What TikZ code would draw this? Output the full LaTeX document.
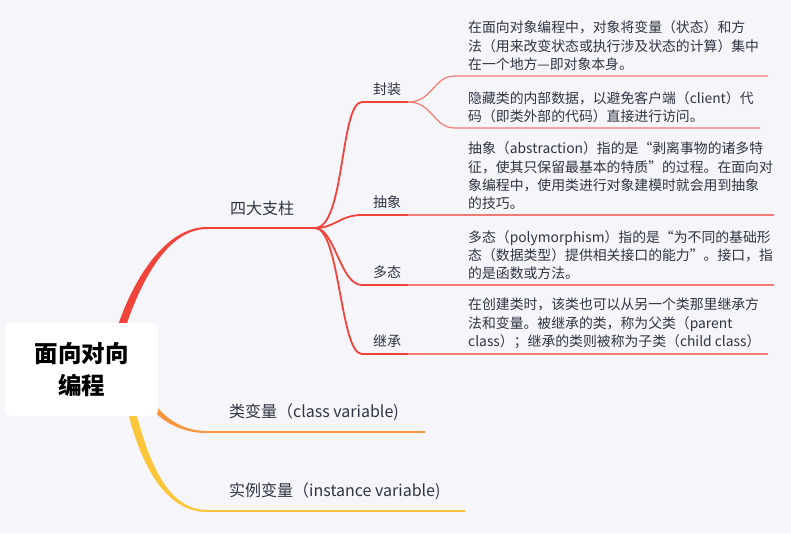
\documentclass[tikz,border=0pt]{standalone}
\usepackage{fontspec}
\setmainfont{Noto Sans CJK SC}
\usetikzlibrary{positioning}

\definecolor{bgcol}{HTML}{F5F5FA}
\definecolor{txtcol}{HTML}{2F3542}
\definecolor{redcol}{HTML}{F0443A}
\definecolor{twigcol}{HTML}{F47A74}
\definecolor{orgcol}{HTML}{F7963C}
\definecolor{yelcol}{HTML}{FCC63A}

\tikzset{
  rootbox/.style={fill=white, rounded corners=6pt, minimum width=153pt, minimum height=93pt,
    inner sep=0pt, align=center, font=\fontsize{23.5}{32}\selectfont\bfseries},
  mainlbl/.style={inner sep=0pt, text=txtcol, font=\fontsize{16}{20}\selectfont},
  sublbl/.style={inner sep=0pt, text=txtcol, font=\fontsize{14}{18}\selectfont},
  leaftxt/.style={inner sep=0pt, align=left, text=txtcol, font=\fontsize{13.85}{18.3}\selectfont},
  branch/.style={draw=redcol, line width=1.8pt},
  twig/.style={draw=twigcol, line width=1.2pt},
}

\begin{document}
\begin{tikzpicture}[x=1pt, y=-1pt]
    \fill[bgcol] (0,0) rectangle (791,533);
    \useasboundingbox (0,0) rectangle (791,533);

    % points where the branches meet
    \coordinate (redA) at (119,335);
    \coordinate (pillarsL) at (207,228);
    \coordinate (pillarsR) at (315,228);
    \coordinate (orgA) at (145,395);
    \coordinate (classL) at (207,432);
    \coordinate (classR) at (425,432);
    \coordinate (yelA) at (129,400);
    \coordinate (instL) at (207,511);
    \coordinate (instR) at (465,511);

    \coordinate (encapL) at (362,102);
    \coordinate (encapR) at (408,102);
    \coordinate (encapUp) at (455,76);
    \coordinate (encapUpEnd) at (768,76);
    \coordinate (encapLow) at (455,128);
    \coordinate (encapLowEnd) at (760,128);
    \coordinate (abstrL) at (362,215);
    \coordinate (abstrR) at (408,215);
    \coordinate (abstrEnd) at (774,215);
    \coordinate (polyL) at (362,285);
    \coordinate (polyR) at (408,285);
    \coordinate (polyEnd) at (774,285);
    \coordinate (inheritL) at (362,354);
    \coordinate (inheritR) at (408,354);
    \coordinate (inheritEnd) at (768,354);

    % main branches, thick at the root
    \fill[redcol] ([xshift=-4pt]redA) .. controls +(12,-42) and +(-47,0) .. ([yshift=1pt]pillarsL)
        -- ([yshift=-1pt]pillarsL) .. controls +(-45,0) and +(12,-38) .. ([xshift=4pt]redA) -- cycle;
    \fill[orgcol] ([shift={(-2pt,-2pt)}]orgA) .. controls +(15,25) and +(-25,0) .. ([yshift=-1pt]classL)
        -- ([yshift=1pt]classL) .. controls +(-25,0) and +(15,25) .. ([shift={(2pt,2pt)}]orgA) -- cycle;
    \fill[yelcol] ([xshift=-4pt]yelA) .. controls +(14,64) and +(-42,0) .. ([yshift=-1pt]instL)
        -- ([yshift=1pt]instL) .. controls +(-40,0) and +(14,60) .. ([xshift=4pt]yelA) -- cycle;
    \draw[redcol, line width=2.2pt] (pillarsL) -- (pillarsR);
    \draw[orgcol, line width=2.2pt] (classL) -- (classR);
    \draw[yelcol, line width=2.2pt] (instL) -- (instR);

    \node (root) [rootbox] at (81.5,369.5) {面向对向\\编程};

    % the four pillars
    \draw[branch] (pillarsR) .. controls +(30,0) and +(-22,0) .. (encapL) -- (encapR);
    \draw[branch] (pillarsR) .. controls +(20,0) and +(-22,0) .. (abstrL) -- (abstrR);
    \draw[branch] (pillarsR) .. controls +(20,0) and +(-22,0) .. (polyL) -- (polyR);
    \draw[branch] (pillarsR) .. controls +(25,0) and +(-22,0) .. (inheritL) -- (inheritR);

    \draw[twig] (encapR) .. controls +(25,0) and +(-22,0) .. (encapUp) -- (encapUpEnd);
    \draw[twig] (encapR) .. controls +(25,0) and +(-22,0) .. (encapLow) -- (encapLowEnd);
    \draw[twig] (abstrR) -- (abstrEnd);
    \draw[twig] (polyR) -- (polyEnd);
    \draw[twig] (inheritR) -- (inheritEnd);

    \node (pillars) [mainlbl, above right=12pt and 23pt of pillarsL] {四大支柱};
    \node (classvar) [mainlbl, above right=11pt and 22pt of classL] {类变量（class variable)};
    \node (instvar) [mainlbl, above right=11pt and 22pt of instL] {实例变量（instance variable)};

    \node (encap) [sublbl, above right=6pt and 11pt of encapL] {封装};
    \node (abstr) [sublbl, above right=6pt and 11pt of abstrL] {抽象};
    \node (poly) [sublbl, above right=6pt and 11pt of polyL] {多态};
    \node (inherit) [sublbl, above right=6pt and 11pt of inheritL] {继承};

    \node (encapA) [leaftxt, above right=5pt and 13pt of encapUp]
        {在面向对象编程中，对象将变量（状态）和方\\法（用来改变状态或执行涉及状态的计算）集中\\在一个地方—即对象本身。};
    \node (encapB) [leaftxt, above right=5pt and 13pt of encapLow]
        {隐藏类的内部数据，以避免客户端（client）代\\码（即类外部的代码）直接进行访问。};
    \node (abstrT) [leaftxt, above right=5pt and 60pt of abstrR]
        {抽象（abstraction）指的是“剥离事物的诸多特\\征，使其只保留最基本的特质”的过程。在面向对\\象编程中，使用类进行对象建模时就会用到抽象\\的技巧。};
    \node (polyT) [leaftxt, above right=5pt and 60pt of polyR]
        {多态（polymorphism）指的是“为不同的基础形\\态（数据类型）提供相关接口的能力”。接口，指\\的是函数或方法。};
    \node (inheritT) [leaftxt, above right=5pt and 60pt of inheritR]
        {在创建类时，该类也可以从另一个类那里继承方\\法和变量。被继承的类，称为父类（parent\\class）；继承的类则被称为子类（child class）};
\end{tikzpicture}
\end{document}
